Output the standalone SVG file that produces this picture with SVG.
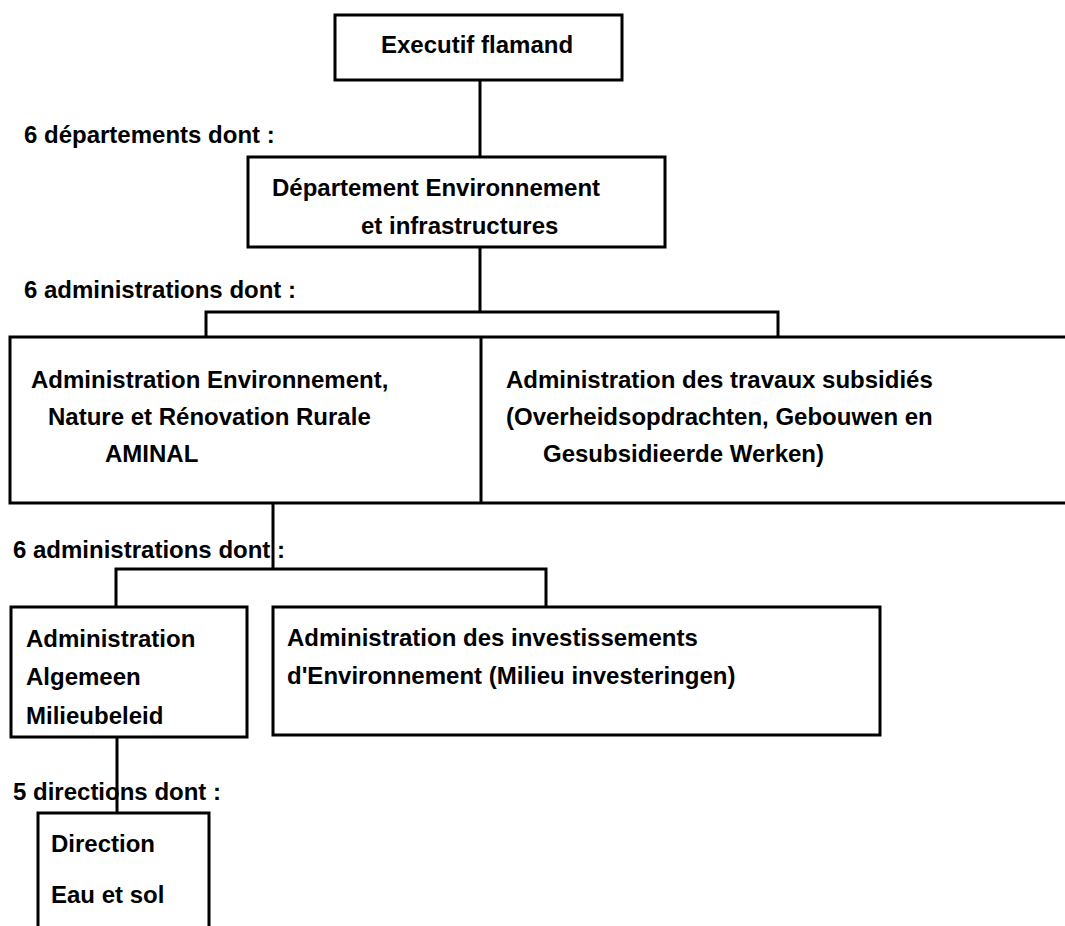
<svg xmlns="http://www.w3.org/2000/svg" width="1065" height="926" viewBox="0 0 1065 926">
<style>
.box{fill:none;stroke:#000;stroke-width:3}
.ln{fill:none;stroke:#000;stroke-width:3}
text{font-family:"Liberation Sans",Arial,sans-serif;font-weight:bold;font-size:24px;fill:#000}
</style>
<rect width="1065" height="926" fill="#fff"/>
<g id="connectors">
<line class="ln" x1="480" y1="80" x2="480" y2="157"/>
<line class="ln" x1="480" y1="247" x2="480" y2="312"/>
<polyline class="ln" points="206,337 206,312 778,312 778,337"/>
<line class="ln" x1="273" y1="503" x2="273" y2="569"/>
<polyline class="ln" points="116,607 116,569 546,569 546,607"/>
<line class="ln" x1="117" y1="737" x2="117" y2="813"/>
</g>
<g id="labels">
<text x="24" y="143">6 départements dont :</text>
<text x="24" y="298">6 administrations dont :</text>
<text x="13" y="558">6 administrations dont :</text>
<text x="13" y="800">5 directions dont :</text>
</g>
<g id="executif">
<rect class="box" x="335" y="15" width="287" height="65"/>
<text x="381" y="53">Executif flamand</text>
</g>
<g id="departement">
<rect class="box" x="248" y="157" width="417" height="90"/>
<text x="272" y="196">Département Environnement</text>
<text x="361" y="234">et infrastructures</text>
</g>
<g id="aminal">
<polyline class="box" points="1066,337 10,337 10,503 1066,503"/>
<text x="31" y="388">Administration Environnement,</text>
<text x="48" y="425">Nature et Rénovation Rurale</text>
<text x="105" y="462">AMINAL</text>
</g>
<g id="travaux">
<line class="box" x1="481" y1="337" x2="481" y2="503"/>
<text x="506" y="388">Administration des travaux subsidiés</text>
<text x="506" y="425">(Overheidsopdrachten, Gebouwen en</text>
<text x="543" y="462">Gesubsidieerde Werken)</text>
</g>
<g id="algemeen">
<rect class="box" x="11" y="607" width="236" height="130"/>
<text x="26" y="647">Administration</text>
<text x="26" y="685">Algemeen</text>
<text x="26" y="724">Milieubeleid</text>
</g>
<g id="investissements">
<rect class="box" x="273" y="607" width="607" height="128"/>
<text x="287" y="646">Administration des investissements</text>
<text x="287" y="684">d'Environnement (Milieu investeringen)</text>
</g>
<g id="direction">
<polyline class="box" points="38,927 38,813 209,813 209,927"/>
<text x="51" y="852">Direction</text>
<text x="51" y="903">Eau et sol</text>
</g>
</svg>
